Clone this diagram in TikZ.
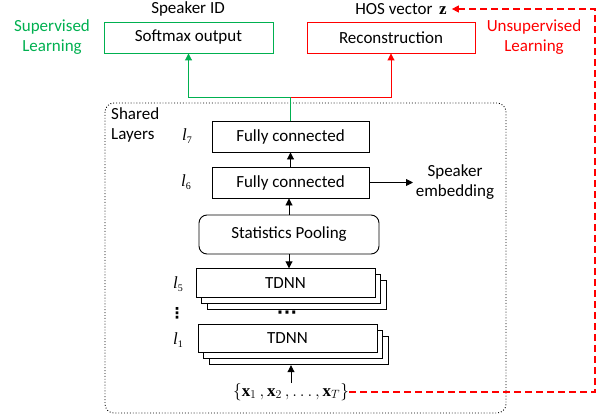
\documentclass[tikz,border=0pt]{standalone}
\usepackage{amsmath}
\usepackage{fontspec}
\setmainfont{Carlito}
\setmathrm{Liberation Serif}
\setboldmathrm{Liberation Serif}
\newfontfamily\serif{Liberation Serif}
\newfontfamily\dejavu{DejaVu Sans}
\usetikzlibrary{arrows.meta}
\definecolor{ogreen}{RGB}{0,176,80}
\definecolor{ored}{RGB}{255,0,0}
\newcommand{\lsub}[1]{{\serif\itshape l}\raisebox{-3pt}{\serif\fontsize{10}{10}\selectfont #1}}
\begin{document}
\begin{tikzpicture}[x=1pt,y=-1pt,
  every node/.style={font=\fontsize{17}{20}\selectfont, inner sep=0pt},
  box/.style={draw, line width=0.9pt, fill=white, minimum width=#1, minimum height=31pt},
  tbox/.style={draw, line width=0.9pt, fill=white, minimum width=179pt, minimum height=28.5pt},
  arr/.style={line width=0.9pt, -{Triangle[length=7pt,width=7pt]}}
]
\useasboundingbox (0,0) rectangle (607,417);
% shared box
\draw[dotted, line width=0.9pt, rounded corners=9pt] (105,103) rectangle (506,413);
\node[align=left, anchor=west] (shared) at (111,125) {Shared\\Layers};
% top boxes
\node[box=169pt, draw=ogreen] (soft) at (188.5,37.5) {Softmax output};
\node[box=168pt, draw=ored] (rec) at (391,37.5) {Reconstruction};
\node (spkid) at (188,9) {Speaker ID};
\node (hos) at (401,9) {HOS vector\, {\serif\bfseries z}};
\node[text=ogreen, align=center] (sup) at (52,37.5) {Supervised\\Learning};
\node[text=ored, align=center] (unsup) at (534,37.5) {Unsupervised\\Learning};
% layers
\node[box=157pt] (fc7) at (290.5,136.5) {Fully connected};
\node[box=157pt] (fc6) at (290.5,182.5) {Fully connected};
\node[draw, line width=0.9pt, rounded corners=8pt, minimum width=180pt, minimum height=39pt] (stats) at (289,234.5) {Statistics Pooling};
\node[tbox] (t5c) at (296.5,295) {};
\node[tbox] (t5b) at (291,289) {};
\node[tbox] (t5) at (285.5,283) {TDNN};
\node[tbox] (t1c) at (298.5,350.5) {};
\node[tbox] (t1b) at (293,344.5) {};
\node[tbox] (t1) at (287.5,338.5) {TDNN};
\node[font=\fontsize{17}{17}\selectfont\dejavu\bfseries] (dots) at (287,315) {·\hspace{0.5pt}·\hspace{0.5pt}·};
\node (l7) at (187,136) {\lsub{7}};
\node (l6) at (186,182) {\lsub{6}};
\node (l5) at (178,284) {\lsub{5}};
\node[font=\fontsize{15}{15}\selectfont\dejavu\bfseries] (vd) at (177,313) {⋮};
\node (l1) at (178,340) {\lsub{1}};
\node[align=center] (emb) at (455,182) {Speaker\\embedding};
\node (inp) at (291,392) {$\{\mathbf{x}_1\,, \mathbf{x}_2\,, \ldots, \mathbf{x}_T\}$};
% connectors
\coordinate (j) at (290.5,97);
\draw[line width=0.9pt, ogreen] (fc7.north) -- (j);
\draw[arr, ogreen] (j) -| (soft.south);
\draw[arr, ored] (j) -| (rec.south);
\draw[arr] (fc6.north) -- (fc7.south);
\draw[arr] (stats.north) -- (stats.north |- fc6.south);
\draw[arr] (stats.south) -- (stats.south |- t5.north);
\draw[arr] (inp.north) -- (inp.north |- t1c.south);
\draw[arr] (fc6.east) -- (413,182.5);
\coordinate (c1) at (595,392);
\coordinate (c2) at (595,9);
\draw[ored, line width=1.1pt, dash pattern=on 7pt off 4pt, -{Triangle[length=7pt,width=7pt]}] (inp.east) -- (c1) -- (c2) -- ([xshift=5pt]hos.east);
\end{tikzpicture}
\end{document}
